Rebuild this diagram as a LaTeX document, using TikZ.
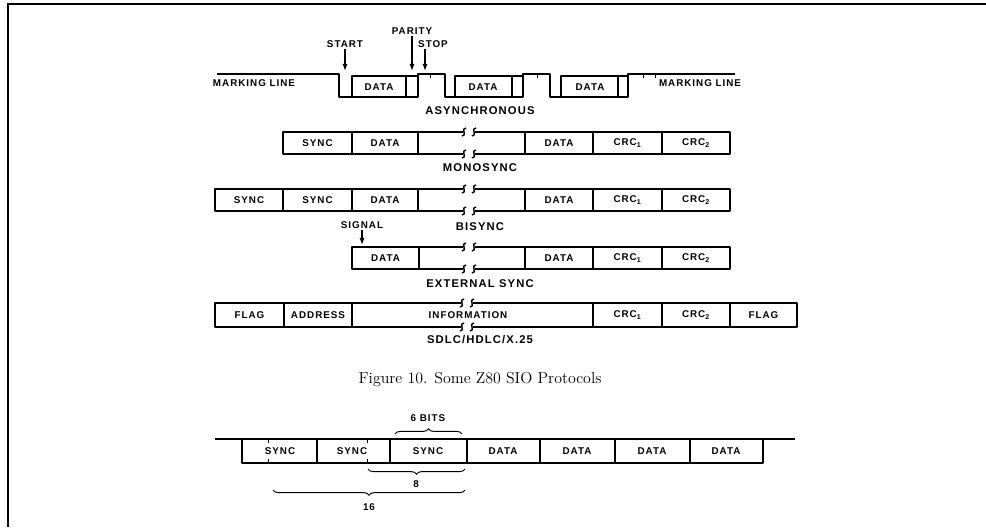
\documentclass[tikz,border=0pt]{standalone}
\usepackage{fontspec}
\newfontfamily\lblfont[LetterSpace=10]{Liberation Sans}
\usetikzlibrary{arrows.meta,decorations.pathreplacing}

\begin{document}
\begin{tikzpicture}[
  x=0.25mm, y=-0.25mm,
  >=Latex,
  wire/.style={line width=1.15pt, line join=round},
  cell/.style={font=\lblfont\bfseries\fontsize{7}{8}\selectfont, inner sep=1pt},
  title/.style={font=\lblfont\bfseries\fontsize{8}{9}\selectfont, inner sep=1pt},
  caption/.style={font=\fontsize{11.3}{13}\selectfont, inner sep=1pt},
  ptr/.style={-{Latex[length=1.8mm, width=1.3mm]}, line width=0.9pt},
  tick/.style={line width=0.7pt},
  curly/.style={decorate, decoration={brace, amplitude=1.3mm}, line width=0.7pt},
  brk/.pic={
    \fill[white] (-6,-2) rectangle (6,2);
    \draw[line width=1pt] (-3,-4) .. controls (-9,-4) and (-1,4) .. (-7,4);
    \draw[line width=1pt] (7,-4) .. controls (1,-4) and (9,4) .. (3,4);
  }
]
\useasboundingbox (0,0) rectangle (986,527);
\draw[line width=0.5mm] (8,527) -- (8,4) -- (986,4);

\draw[wire] (217,74) -- (339,74) -- (339,97) -- (352,97)
  (352,76) rectangle (406,97) (406,76) rectangle (418,97)
  (418,97) -- (418,74) -- (445,74) -- (445,97) -- (455,97)
  (455,76) rectangle (512,97) (512,76) rectangle (523,97)
  (523,97) -- (523,74) -- (550,74) -- (550,97) -- (561,97)
  (561,76) rectangle (618,97) (618,76) rectangle (628,97)
  (628,97) -- (628,74) -- (735,74);
\draw[tick] (430,74) -- (430,78) (537,74) -- (537,78) (643,74) -- (643,78) (655,74) -- (655,78);

\node[cell] (markleft) at (254,83) {MARKING LINE};
\node[cell] (markright) at (700,83) {MARKING LINE};
\node[cell] (adata1) at (379,87) {DATA};
\node[cell] (adata2) at (483,87) {DATA};
\node[cell] (adata3) at (590,87) {DATA};
\node[cell] (start) at (345,44) {START};
\node[cell] (parity) at (412,31) {PARITY};
\node[cell] (stop) at (433,44) {STOP};
\coordinate (startpt) at (345,71);
\coordinate (paritypt) at (412,71);
\coordinate (stoppt) at (425,71);
\draw[ptr] (start) -- (startpt);
\draw[ptr] (parity) -- (paritypt);
\draw[ptr] (stop.south -| stoppt) -- (stoppt);
\node[title] (async) at (480,111) {ASYNCHRONOUS};

\draw[wire] (283,132) rectangle (730,154)
  (352,132) -- (352,154) (418,132) -- (418,154) (525,132) -- (525,154)
  (593,132) -- (593,154) (662,132) -- (662,154);
\pic at (469,132) {brk};
\pic at (469,154) {brk};
\node[cell] (msync) at (317.5,143) {SYNC};
\node[cell] (mdata1) at (385,143) {DATA};
\node[cell] (mdata2) at (559,143) {DATA};
\node[cell] (mcrc1) at (627.5,143) {CRC\textsubscript{1}};
\node[cell] (mcrc2) at (696,143) {CRC\textsubscript{2}};
\node[title] (mono) at (480,168) {MONOSYNC};

\draw[wire] (215,189) rectangle (730,211)
  (283,189) -- (283,211) (352,189) -- (352,211) (418,189) -- (418,211)
  (525,189) -- (525,211) (593,189) -- (593,211) (662,189) -- (662,211);
\pic at (469,189) {brk};
\pic at (469,211) {brk};
\node[cell] (bsync1) at (249,200) {SYNC};
\node[cell] (bsync2) at (317.5,200) {SYNC};
\node[cell] (bdata1) at (385,200) {DATA};
\node[cell] (bdata2) at (559,200) {DATA};
\node[cell] (bcrc1) at (627.5,200) {CRC\textsubscript{1}};
\node[cell] (bcrc2) at (696,200) {CRC\textsubscript{2}};
\node[title] (bisync) at (480,227) {BISYNC};

\node[cell] (signal) at (362,225) {SIGNAL};
\coordinate (signalpt) at (362,245);
\draw[ptr] (signal) -- (signalpt);
\draw[wire] (352,247) rectangle (730,269)
  (419,247) -- (419,269) (525,247) -- (525,269)
  (593,247) -- (593,269) (662,247) -- (662,269);
\pic at (469,247) {brk};
\pic at (469,269) {brk};
\node[cell] (edata1) at (385.5,258) {DATA};
\node[cell] (edata2) at (559,258) {DATA};
\node[cell] (ecrc1) at (627.5,258) {CRC\textsubscript{1}};
\node[cell] (ecrc2) at (696,258) {CRC\textsubscript{2}};
\node[title] (ext) at (480,284) {EXTERNAL SYNC};

\draw[wire] (215,303) rectangle (797,327)
  (284,303) -- (284,327) (352,303) -- (352,327)
  (593,303) -- (593,327) (662,303) -- (662,327) (730,303) -- (730,327);
\pic at (467,303) {brk};
\pic at (467,327) {brk};
\node[cell] (sflag1) at (249.5,315) {FLAG};
\node[cell] (saddr) at (318,315) {ADDRESS};
\node[cell, fill=white] (sinfo) at (468,315) {INFORMATION};
\node[cell] (scrc1) at (627.5,315) {CRC\textsubscript{1}};
\node[cell] (scrc2) at (696,315) {CRC\textsubscript{2}};
\node[cell] (sflag2) at (763.5,315) {FLAG};
\node[title] (sdlc) at (480,340) {SDLC/HDLC/X.25};

\node[caption] (fig) at (480,380) {Figure 10. Some Z80 SIO Protocols};

\draw[wire] (215,439) -- (795,439)
  (242,439) -- (242,463) -- (763,463) -- (763,439)
  (317,439) -- (317,463) (390,439) -- (390,463) (467,439) -- (467,463)
  (540,439) -- (540,463) (615,439) -- (615,463) (690,439) -- (690,463);
\draw[tick] (268,439) -- (268,443) (268,459) -- (268,463)
  (367,439) -- (367,443) (367,459) -- (367,463);
\node[cell] (ssync1) at (280,451) {SYNC};
\node[cell] (ssync2) at (352,451) {SYNC};
\node[cell] (ssync3) at (428,451) {SYNC};
\node[cell] (sdata1) at (503,451) {DATA};
\node[cell] (sdata2) at (577,451) {DATA};
\node[cell] (sdata3) at (652,451) {DATA};
\node[cell] (sdata4) at (726,451) {DATA};
\draw[curly] (395,434) -- (462,434);
\node[cell] (bits6) at (428,418) {6 BITS};
\draw[curly] (465,469) -- (368,469);
\node[cell] (bits8) at (416,484) {8};
\draw[curly] (465,490) -- (273,490);
\node[cell] (bits16) at (369,507) {16};
\end{tikzpicture}
\end{document}
